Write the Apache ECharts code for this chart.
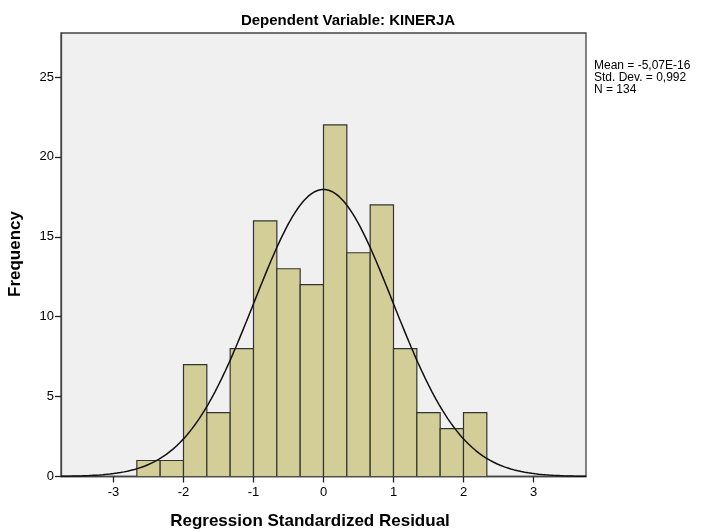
<!DOCTYPE html>
<html><head><meta charset="utf-8">
<script src="https://cdn.jsdelivr.net/npm/echarts@6/dist/echarts.min.js"></script>
<style>html,body{margin:0;padding:0;background:#fff}#c{width:706px;height:532px}</style>
</head><body><div id="c"></div>
<script>
var binStarts = [-8/3,-7/3,-2,-5/3,-4/3,-1,-2/3,-1/3,0,1/3,2/3,1,4/3,5/3,2];
var binWidth = 1/3;
var counts = [1,1,7,4,8,16,13,12,22,14,17,8,4,3,4];
var xTicks = [-3,-2,-1,0,1,2,3];
var yTicks = [0,5,10,15,20,25];
var statMean = -5.07e-16, statSd = 0.992, statN = 134;
var statLines = ['Mean = -5,07E-16','Std. Dev. = 0,992','N = 134'];

var barData = binStarts.map(function(s,i){return [s, s+binWidth, counts[i]];});
var curve = [];
for (var k = 0; k <= 300; k++) {
  var x = -3.75 + k * 7.5 / 300;
  var z = (x - statMean) / statSd;
  curve.push([x, statN * binWidth / (statSd * Math.sqrt(2*Math.PI)) * Math.exp(-0.5*z*z)]);
}
var FONT = 'Liberation Sans, Arial, sans-serif';
var chart = echarts.init(document.getElementById('c'));
chart.setOption({
  animation:false,
  backgroundColor:'#ffffff',
  title:{text:'Dependent Variable: KINERJA',left:343,top:8,textAlign:'center',
    textStyle:{fontFamily:FONT,fontSize:15,fontWeight:'bold',color:'#000'}},
  grid:{left:61,right:120,top:33,bottom:55.5,show:true,backgroundColor:'#f0f0f0',borderColor:'#444',borderWidth:1.3},
  xAxis:{type:'value',min:-3.75,max:3.75,
    axisLine:{show:true,onZero:false,lineStyle:{color:'#444',width:1.3}},splitLine:{show:false},
    axisTick:{show:true,length:6,customValues:xTicks,lineStyle:{color:'#222',width:1.3}},
    axisLabel:{customValues:xTicks,fontFamily:FONT,fontSize:13,color:'#000',margin:9}},
  yAxis:{type:'value',min:0,max:27.75,
    axisLine:{show:true,onZero:false,lineStyle:{color:'#444',width:1.3}},splitLine:{show:false},
    axisTick:{show:true,length:6,customValues:yTicks,lineStyle:{color:'#222',width:1.3}},
    axisLabel:{customValues:yTicks,fontFamily:FONT,fontSize:13,color:'#000',margin:7}},
  graphic:[
    {type:'text',x:310,y:521,style:{text:'Regression Standardized Residual',textAlign:'center',textVerticalAlign:'middle',font:'bold 17px '+FONT,fill:'#000'}},
    {type:'text',rotation:Math.PI/2,x:15,y:254,style:{text:'Frequency',textAlign:'center',textVerticalAlign:'middle',font:'bold 17px '+FONT,fill:'#000'}},
    {type:'text',x:594,y:60,style:{text:statLines.join('\n'),font:'12px '+FONT,fill:'#000',lineHeight:12}}
  ],
  series:[
    {type:'custom',data:barData,encode:{x:[0,1],y:2},clip:true,
      renderItem:function(params,api){
        var p0 = api.coord([api.value(0),api.value(2)]);
        var p1 = api.coord([api.value(1),0]);
        return {type:'rect',shape:{x:p0[0],y:p0[1],width:p1[0]-p0[0],height:p1[1]-p0[1]},
          style:{fill:'#d3ce98',stroke:'#333',lineWidth:1.2}};
      },z:2},
    {type:'line',data:curve,showSymbol:false,smooth:false,lineStyle:{color:'#111',width:1.5},z:3,silent:true}
  ]
});
</script></body></html>
